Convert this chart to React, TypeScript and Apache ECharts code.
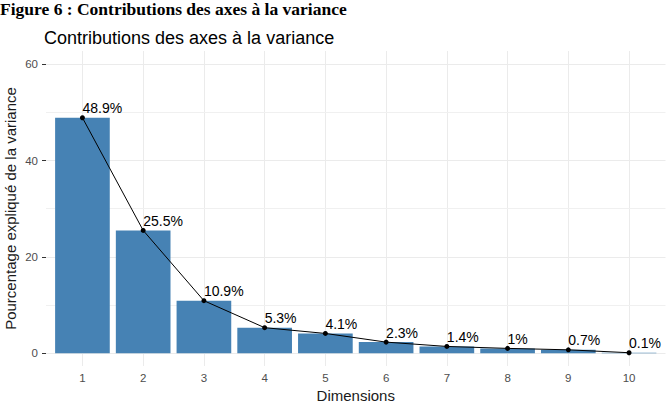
import React, { useEffect, useRef } from "react";
import * as echarts from "echarts";

const dimensions = [1, 2, 3, 4, 5, 6, 7, 8, 9, 10];
const variancePct = [48.9, 25.5, 10.9, 5.3, 4.1, 2.3, 1.4, 1.0, 0.7, 0.1];
const yTicks = [0, 20, 40, 60];
const yMinorTicks = [10, 30, 50];

const FONT = '"Liberation Sans", Arial, sans-serif';

export default function App() {
  const ref = useRef<HTMLDivElement>(null);
  useEffect(() => {
    if (!ref.current) return;
    const chart = echarts.init(ref.current, null, { renderer: "svg" });
    const pts = dimensions.map((d, i) => [d, variancePct[i]]);
    const grid = "#ebebeb";
    chart.setOption({
      animation: false,
      backgroundColor: "#ffffff",
      textStyle: { fontFamily: FONT },
      title: {
        text: "Contributions des axes à la variance",
        left: 44,
        top: 29,
        padding: 0,
        textStyle: { fontFamily: FONT, fontSize: 18, fontWeight: "normal", color: "#000" },
      },
      graphic: [
        {
          type: "text",
          x: 0,
          y: 0,
          style: {
            text: "Figure 6 : Contributions des axes à la variance",
            font: 'bold 17.5px "Liberation Serif", "Times New Roman", serif',
            fill: "#000",
            align: "left",
            verticalAlign: "top",
          },
        },
      ],
      grid: { left: 46, right: 0.5, top: 51, bottom: 38, containLabel: false, outerBoundsMode: "none" },
      xAxis: {
        type: "value",
        min: 0.4,
        max: 10.6,
        name: "Dimensions",
        nameLocation: "middle",
        nameGap: 22,
        nameMoveOverlap: false,
        nameTextStyle: { fontFamily: FONT, fontSize: 15, color: "#1a1a1a" },
        axisLine: { show: false },
        axisTick: { show: true, customValues: dimensions, length: 4, lineStyle: { color: "#333", width: 1 } },
        axisLabel: {
          customValues: dimensions,
          margin: 6,
          fontSize: 11.5,
          color: "#4d4d4d",
          fontFamily: FONT,
          formatter: (v: number) => String(v),
        },
        splitLine: { show: false },
      },
      yAxis: {
        type: "value",
        min: -2.66,
        max: 62.76,
        name: "Pourcentage expliqué de la variance",
        nameLocation: "middle",
        nameGap: 28,
        nameMoveOverlap: false,
        nameTextStyle: { fontFamily: FONT, fontSize: 15, color: "#1a1a1a" },
        axisLine: { show: false },
        axisTick: { show: true, customValues: yTicks, length: 4, lineStyle: { color: "#333", width: 1 } },
        axisLabel: {
          customValues: yTicks,
          margin: 8,
          fontSize: 11.5,
          color: "#4d4d4d",
          fontFamily: FONT,
          formatter: (v: number) => String(v),
        },
        splitLine: { show: false },
      },
      series: [
        {
          type: "bar",
          data: pts,
          barWidth: "90%",
          itemStyle: { color: "#4682B4" },
          z: 2,
          markLine: {
            silent: true,
            z: 1,
            symbol: "none",
            label: { show: false },
            lineStyle: { color: grid, width: 1, type: "solid" },
            data: [
              ...dimensions.map((d) => ({ xAxis: d })),
              ...yTicks.map((v) => ({ yAxis: v })),
              ...yMinorTicks.map((v) => ({ yAxis: v, lineStyle: { color: "#f0f0f0", width: 1, type: "solid" } })),
            ],
          },
        },
        {
          type: "line",
          data: pts,
          z: 3,
          symbol: "circle",
          symbolSize: 5,
          itemStyle: { color: "#000" },
          lineStyle: { color: "#000", width: 1 },
          label: {
            show: true,
            position: [2.5, 0],
            align: "left",
            verticalAlign: "bottom",
            fontSize: 14,
            fontFamily: FONT,
            color: "#000",
            formatter: (p: any) => `${p.value[1]}%`,
          },
        },
      ],
    });
    return () => chart.dispose();
  }, []);
  return (
    <div
      ref={ref}
      style={{ position: "absolute", left: 0, top: 0, width: 666, height: 404, background: "#fff" }}
    />
  );
}
